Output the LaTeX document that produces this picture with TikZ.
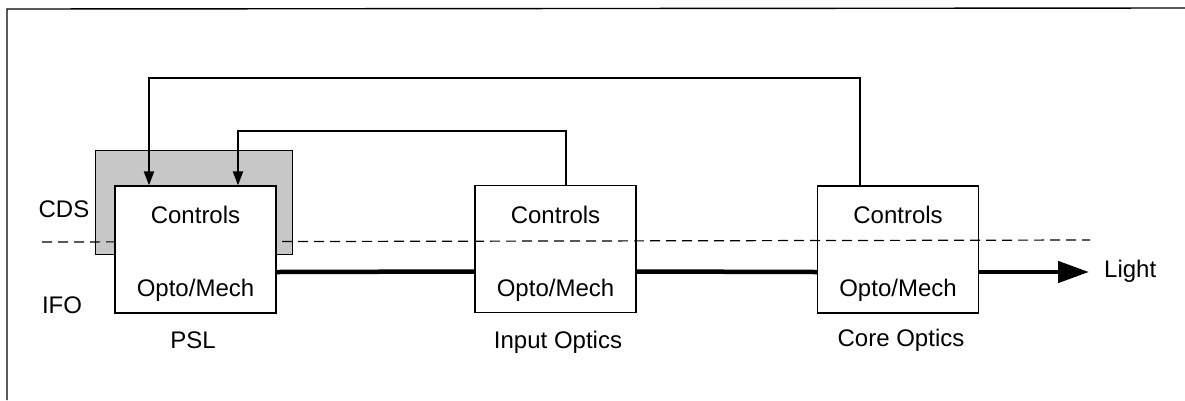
\documentclass[tikz,border=0pt]{standalone}
\usepackage{fontspec}
\setmainfont{Liberation Sans}
\usetikzlibrary{arrows.meta}
\begin{document}
\begin{tikzpicture}[x=1pt,y=-1pt,
  blk/.style={draw,line width=1.2pt,rectangle,inner sep=0pt,minimum width=161pt,minimum height=127pt},
  lbl/.style={font=\fontsize{24}{28}\selectfont,inner sep=0pt,anchor=base},
  fb/.style={line width=2pt,-{Triangle[length=14pt,width=10pt]}},
  beam/.style={line width=4.5pt},
  frame/.style={line width=1.4pt}]
\useasboundingbox (0,0) rectangle (1185,400);
% frame (top and left edges only)
\draw[frame] (7,400) -- (7,9) -- (1185,8);
% CDS shaded region
\fill[black!22] (95,150) rectangle (292,254);
\draw[line width=0.8pt] (95,150) rectangle (292,254);
% dashed boundary
\coordinate (dL) at (42,242);
\coordinate (dR) at (1090,240);
\draw[line width=1.2pt,dash pattern=on 10pt off 6pt] (dL) -- (dR);
% boxes
\node[blk,fill=white] (psl) at (195.5,249.5) {};
\node[blk] (inp) at (555.5,249) {};
\node[blk] (core) at (898,249.5) {};
% texts in boxes
\node[lbl] (pslc) at (195.5,223) {Controls};
\node[lbl] (pslo) at (195.5,296) {Opto/Mech};
\node[lbl] (inpc) at (555.5,223) {Controls};
\node[lbl] (inpo) at (555.5,296) {Opto/Mech};
\node[lbl] (corec) at (898,223) {Controls};
\node[lbl] (coreo) at (898,296) {Opto/Mech};
% captions
\node[lbl] (cpsl) at (193,348) {PSL};
\node[lbl] (cinp) at (558,348) {Input Optics};
\node[lbl] (ccore) at (901,346) {Core Optics};
\node[lbl] (cds) at (64,217) {CDS};
\node[lbl] (ifo) at (62,313) {IFO};
% light beam
\draw[beam] ([yshift=-22.5pt]psl.east) -- ([yshift=-22.5pt]inp.west);
\draw[beam] ([yshift=-22.5pt]inp.east) -- ([yshift=-22.5pt]core.west);
\coordinate (tip) at (1089,272);
\draw[beam,-{Triangle[length=31pt,width=21pt]}] ([yshift=-22.5pt]core.east) -- (tip);
\node[lbl,anchor=base west] (light) at (1104,277) {Light};
% feedback loops
\draw[fb] ([xshift=-38pt]core.north) -- ++(0,-107) -| ([xshift=-46.5pt]psl.north);
\draw[fb] ([xshift=10.5pt]inp.north) -- ++(0,-54) -| ([xshift=42.5pt]psl.north);
\end{tikzpicture}
\end{document}
